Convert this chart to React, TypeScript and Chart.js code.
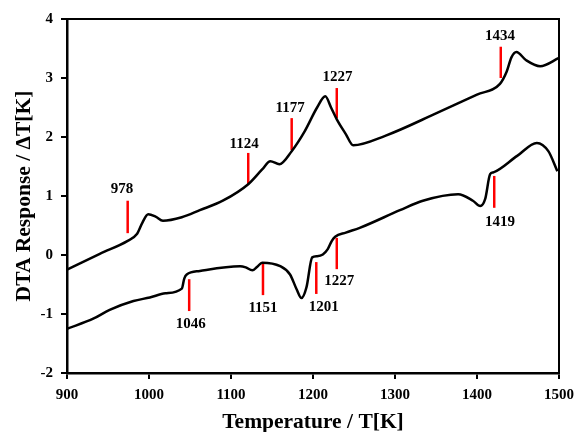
import React, { useEffect, useRef } from "react";
import { Chart, registerables } from "chart.js";

Chart.register(...registerables);

// Upper DTA curve
const upperT = [900, 940, 974, 985, 992, 999, 1008, 1017, 1040, 1062, 1090, 1121, 1138, 1148, 1159, 1174, 1190, 1205, 1215, 1222, 1229, 1240, 1249, 1288, 1350, 1400, 1428, 1436, 1442, 1448, 1460, 1477, 1500];
const upperY = [-0.25, 0.02, 0.24, 0.35, 0.55, 0.69, 0.65, 0.58, 0.64, 0.76, 0.92, 1.2, 1.45, 1.59, 1.54, 1.76, 2.1, 2.5, 2.69, 2.5, 2.3, 2.05, 1.86, 2.02, 2.4, 2.72, 2.9, 3.1, 3.35, 3.44, 3.3, 3.2, 3.34];

// Lower DTA curve
const lowerT = [900, 932, 952, 981, 1001, 1020, 1040, 1043, 1046, 1062, 1111, 1118, 1126, 1132, 1138, 1160, 1172, 1180, 1186, 1192, 1199, 1205, 1212, 1218, 1223, 1227, 1240, 1257, 1306, 1334, 1377, 1395, 1404, 1410, 1416, 1420, 1449, 1473, 1487, 1498];
const lowerY = [-1.25, -1.08, -0.93, -0.78, -0.72, -0.65, -0.57, -0.4, -0.33, -0.27, -0.19, -0.21, -0.26, -0.2, -0.13, -0.19, -0.33, -0.58, -0.73, -0.55, -0.04, -0.02, 0.01, 0.1, 0.24, 0.31, 0.38, 0.46, 0.76, 0.92, 1.03, 0.92, 0.83, 0.95, 1.37, 1.4, 1.68, 1.9, 1.76, 1.42];

// Red event markers
const markerLabels = ["978", "1124", "1177", "1227", "1434", "1046", "1151", "1201", "1227", "1419"];
const markerT = [974, 1121, 1174, 1229, 1429, 1049, 1139, 1204, 1229, 1421];
const markerLow = [0.37, 1.2, 1.78, 2.32, 3.0, -0.95, -0.68, -0.66, -0.24, 0.8];
const markerHigh = [0.92, 1.73, 2.32, 2.83, 3.53, -0.41, -0.14, -0.12, 0.29, 1.34];
const labelT = [967, 1116, 1172, 1230, 1428, 1051, 1139, 1213, 1232, 1428];
const labelY = [1.12, 1.88, 2.49, 3.02, 3.71, -1.17, -0.9, -0.88, -0.44, 0.56];

const xMin = 900, xMax = 1500, xStep = 100;
const yMin = -2, yMax = 4, yStep = 1;

const FONT = "'Liberation Serif', 'Times New Roman', serif";

export default function App() {
  const ref = useRef<HTMLCanvasElement | null>(null);
  useEffect(() => {
    const canvas = ref.current;
    if (!canvas) return;
    const lineDs = (t: number[], y: number[]) => ({
      type: "line" as const,
      data: t.map((v, i) => ({ x: v, y: y[i] })),
      borderColor: "#000",
      borderWidth: 2.5,
      pointRadius: 0,
      fill: false,
      cubicInterpolationMode: "monotone" as const,
    });
    const markerDs = markerT.map((t, i) => ({
      type: "line" as const,
      data: [{ x: t, y: markerLow[i] }, { x: t, y: markerHigh[i] }],
      borderColor: "#ff0000",
      borderWidth: 2.5,
      pointRadius: 0,
      fill: false,
    }));
    const labelPlugin = {
      id: "labels",
      afterDatasetsDraw(chart: any) {
        const { ctx, scales, chartArea } = chart;
        ctx.save();
        ctx.font = `bold 15px ${FONT}`;
        ctx.fillStyle = "#000";
        ctx.textAlign = "center";
        ctx.textBaseline = "middle";
        markerLabels.forEach((l, i) => {
          ctx.fillText(l, scales.x.getPixelForValue(labelT[i]), scales.y.getPixelForValue(labelY[i]));
        });
        ctx.strokeStyle = "#000";
        ctx.lineWidth = 2;
        ctx.strokeRect(chartArea.left, chartArea.top, chartArea.right - chartArea.left, chartArea.bottom - chartArea.top);
        ctx.restore();
      },
    };
    const chart = new Chart(canvas, {
      type: "line",
      data: { datasets: [lineDs(upperT, upperY), lineDs(lowerT, lowerY), ...markerDs] as any },
      options: {
        animation: false,
        responsive: false,
        layout: { padding: { top: 19, right: 15, left: 0, bottom: 0 } },
        plugins: { legend: { display: false }, tooltip: { enabled: false } },
        scales: {
          x: {
            type: "linear",
            min: xMin,
            max: xMax,
            ticks: { stepSize: xStep, color: "#000", font: { family: FONT, size: 15, weight: "bold" }, padding: 7, callback: (v: any) => String(v) },
            grid: { drawOnChartArea: false, drawTicks: true, tickLength: 6, color: "#000", lineWidth: 2 },
            border: { display: true, color: "#000", width: 2.5 },
            title: { display: true, text: "Temperature / T[K]", color: "#000", font: { family: FONT, size: 21.5, weight: "bold", lineHeight: 1 }, padding: { top: 0, bottom: -1 } },
            afterFit: (s: any) => { s.height = 59; s.paddingLeft = 0; s.paddingRight = 0; },
          },
          y: {
            type: "linear",
            min: yMin,
            max: yMax,
            ticks: { stepSize: yStep, color: "#000", font: { family: FONT, size: 15, weight: "bold" }, padding: 8 },
            grid: { drawOnChartArea: false, drawTicks: true, tickLength: 6, color: "#000", lineWidth: 2 },
            border: { display: true, color: "#000", width: 2.5 },
            title: { display: true, text: "DTA Response / \u0394T[K]", color: "#000", font: { family: FONT, size: 21.5, weight: "bold", lineHeight: 1 }, padding: { top: 13.5, bottom: 0 } },
            afterFit: (s: any) => { s.width = 67; s.paddingTop = 0; s.paddingBottom = 0; },
          },
        },
      } as any,
      plugins: [labelPlugin],
    });
    return () => chart.destroy();
  }, []);
  return (
    <div style={{ position: "fixed", left: 0, top: 0, width: 574, height: 432, background: "#fff" }}>
      <canvas ref={ref} width={574} height={432} style={{ width: 574, height: 432, display: "block" }} />
    </div>
  );
}
